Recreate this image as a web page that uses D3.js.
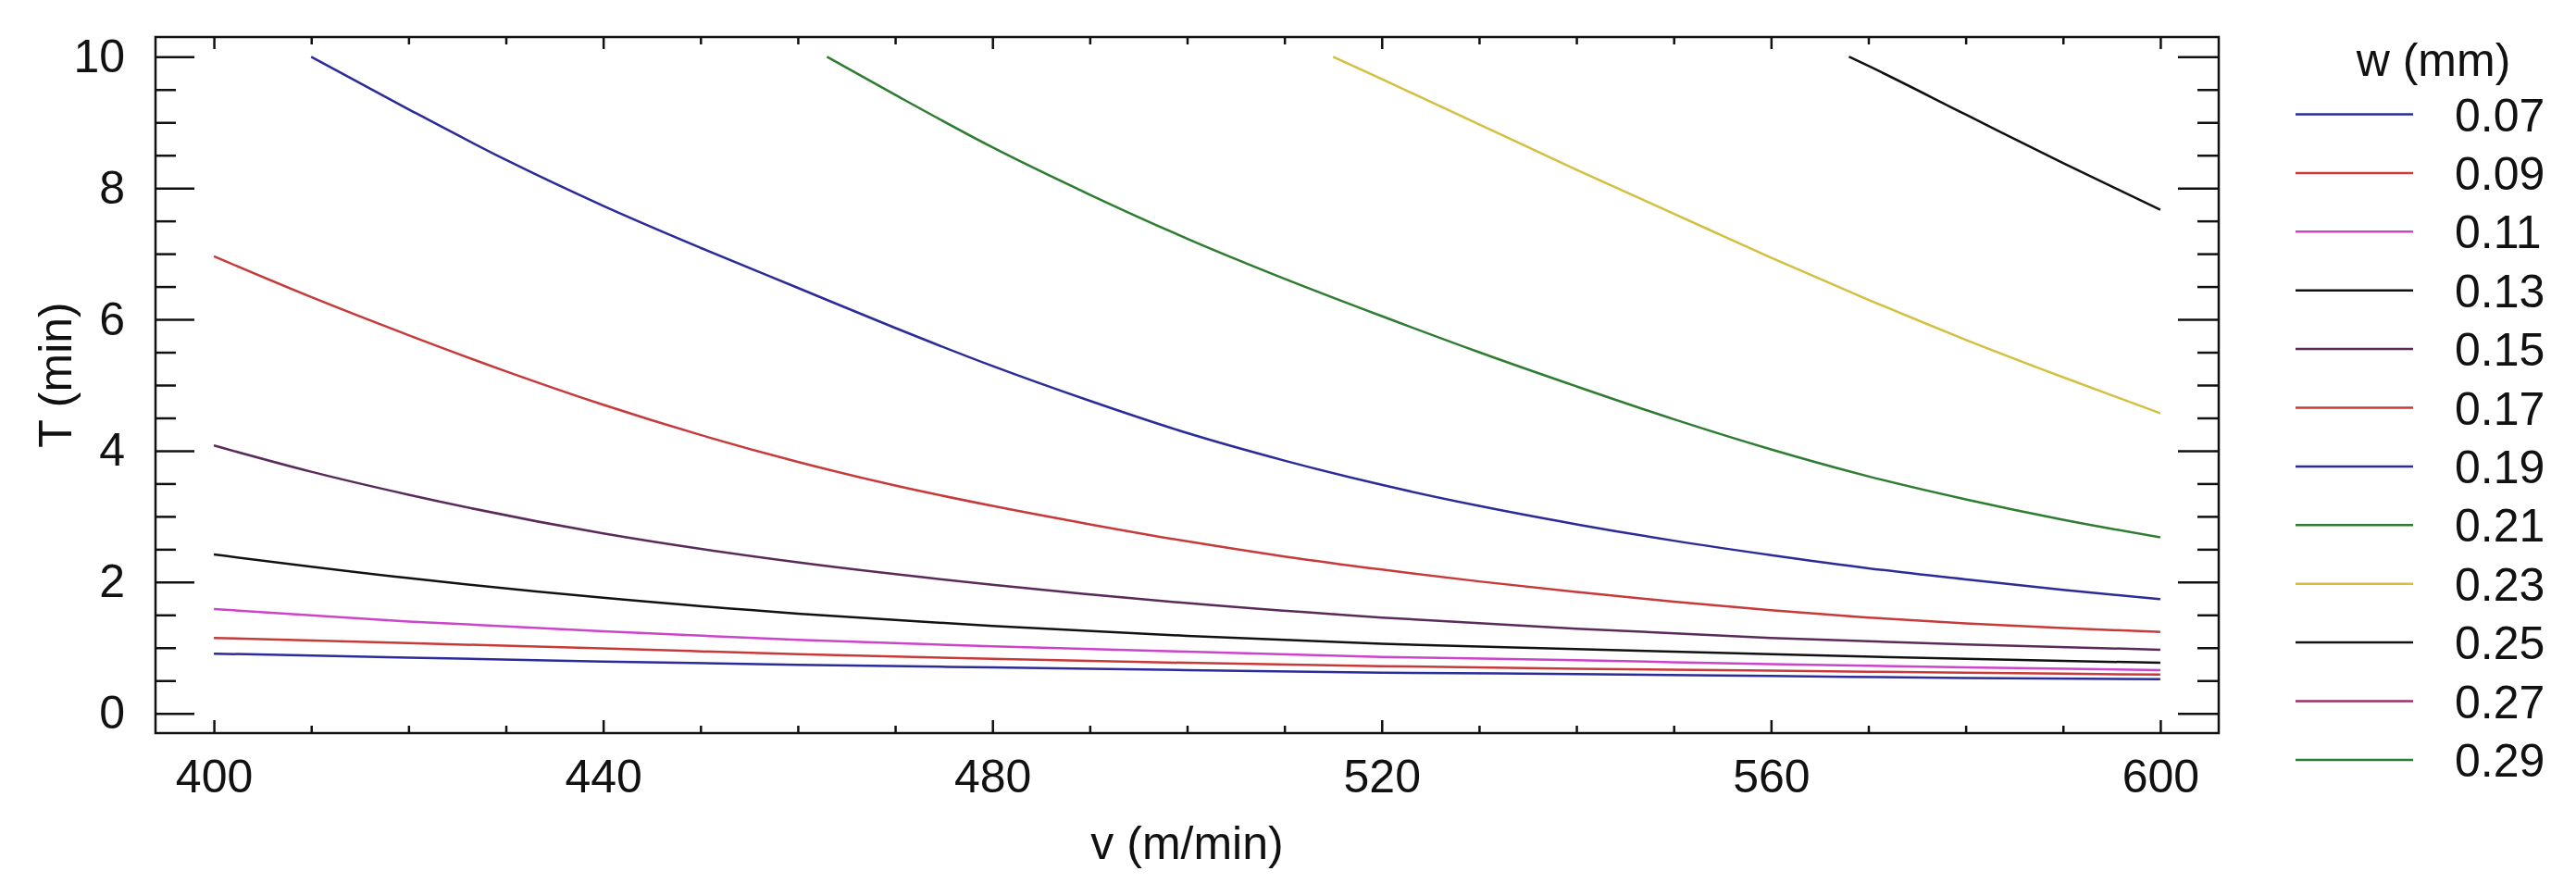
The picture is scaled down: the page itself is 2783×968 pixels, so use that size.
<!DOCTYPE html>
<html>
<head>
<meta charset="utf-8">
<script src="https://cdn.jsdelivr.net/npm/d3@7"></script>
<style>
  html, body { margin: 0; padding: 0; background: #ffffff; }
  svg { display: block; }
  text { font-family: "Liberation Sans", Arial, sans-serif; fill: #111; }
</style>
</head>
<body>
<svg id="chart" width="2783" height="968"></svg>
<script>
// ---------------- data ----------------
const widths = ["0.07","0.09","0.11","0.13","0.15","0.17","0.19","0.21","0.23","0.25","0.27","0.29"];
const colors = ["#2b2b99","#c83a3a","#cc44cc","#111111","#5a2a5a","#c83a3a","#2b2b99","#2e7d32","#d4c040","#111111","#993366","#2e7d32"];

const s007 = [[400,0.91],[420,0.85],[440,0.79],[460,0.74],[480,0.70],[500,0.66],[520,0.62],[540,0.60],[560,0.57],[580,0.54],[600,0.52]];
const s009 = [[400,1.15],[420,1.07],[440,0.99],[460,0.90],[480,0.83],[500,0.77],[520,0.72],[540,0.68],[560,0.65],[580,0.62],[600,0.59]];
const s011 = [[400,1.59],[420,1.40],[440,1.25],[460,1.12],[480,1.02],[500,0.94],[520,0.86],[540,0.81],[560,0.75],[580,0.70],[600,0.66]];
const s013 = [[400,2.42],[420,2.06],[440,1.76],[460,1.52],[480,1.33],[500,1.18],[520,1.06],[540,0.98],[560,0.90],[580,0.83],[600,0.77]];
const s015 = [[400,4.08],[410,3.68],[420,3.33],[440,2.74],[460,2.30],[480,1.96],[500,1.68],[520,1.46],[540,1.29],[560,1.15],[580,1.05],[600,0.97]];
const s017 = [[400,6.96],[410,6.34],[420,5.76],[430,5.21],[440,4.70],[450,4.24],[460,3.83],[470,3.47],[480,3.16],[490,2.88],[500,2.62],[510,2.39],[520,2.19],[530,2.01],[540,1.85],[550,1.70],[560,1.57],[570,1.46],[580,1.37],[590,1.30],[600,1.24]];
const s019 = [[410,10.0],[420,9.20],[430,8.43],[440,7.73],[450,7.09],[460,6.48],[470,5.87],[480,5.29],[490,4.76],[500,4.27],[510,3.85],[520,3.48],[530,3.16],[540,2.88],[550,2.63],[560,2.41],[570,2.21],[580,2.04],[590,1.88],[600,1.74]];
const s021 = [[463,10.0],[470,9.42],[480,8.62],[490,7.90],[500,7.23],[510,6.62],[520,6.05],[530,5.50],[540,4.98],[550,4.48],[560,4.02],[570,3.61],[580,3.26],[590,2.95],[600,2.68]];
const s023 = [[515,10.0],[520,9.66],[530,8.97],[540,8.28],[550,7.61],[560,6.94],[570,6.30],[580,5.69],[590,5.12],[600,4.57]];
const s025 = [[568,10.0],[570,9.86],[580,9.12],[590,8.38],[600,7.67]];
const s027 = []; // above T = 10 over the whole range
const s029 = []; // above T = 10 over the whole range
const seriesData = [s007,s009,s011,s013,s015,s017,s019,s021,s023,s025,s027,s029];

const xMajor = [400,440,480,520,560,600];
const yMajor = [0,2,4,6,8,10];

// ---------------- layout ----------------
const frame = {left:168, right:2397, top:40, bottom:792};
const svg = d3.select("#chart");
const x = d3.scaleLinear().domain([394, 606]).range([frame.left, frame.right]);
const y = d3.scaleLinear().domain([-0.3, 10.3]).range([frame.bottom, frame.top]);

const xMinor = d3.range(400, 601, 10).filter(v => !xMajor.includes(v));
const yMinor = d3.range(0, 10.01, 0.5).filter(v => !yMajor.includes(v));

function styleAxis(g) {
  g.select(".domain").remove();
  g.selectAll(".tick line").attr("stroke", "#111").attr("stroke-width", 2.5);
  g.selectAll("text").attr("font-size", 50).attr("fill", "#111");
}

// left axis
svg.append("g").attr("transform", `translate(${frame.left},0)`)
  .call(d3.axisLeft(y).tickValues(yMajor).tickSize(-42).tickPadding(33).tickFormat(d3.format("d")))
  .call(styleAxis);
svg.append("g").attr("transform", `translate(${frame.left},0)`)
  .call(d3.axisLeft(y).tickValues(yMinor).tickSize(-22).tickFormat(""))
  .call(styleAxis);
// right axis
svg.append("g").attr("transform", `translate(${frame.right},0)`)
  .call(d3.axisRight(y).tickValues(yMajor).tickSize(-44).tickFormat(""))
  .call(styleAxis);
svg.append("g").attr("transform", `translate(${frame.right},0)`)
  .call(d3.axisRight(y).tickValues(yMinor).tickSize(-23).tickFormat(""))
  .call(styleAxis);
// bottom axis
svg.append("g").attr("transform", `translate(0,${frame.bottom})`)
  .call(d3.axisBottom(x).tickValues(xMajor).tickSize(-14).tickPadding(28).tickFormat(d3.format("d")))
  .call(styleAxis);
svg.append("g").attr("transform", `translate(0,${frame.bottom})`)
  .call(d3.axisBottom(x).tickValues(xMinor).tickSize(-8).tickFormat(""))
  .call(styleAxis);
// top axis
svg.append("g").attr("transform", `translate(0,${frame.top})`)
  .call(d3.axisTop(x).tickValues(xMajor).tickSize(-13).tickFormat(""))
  .call(styleAxis);
svg.append("g").attr("transform", `translate(0,${frame.top})`)
  .call(d3.axisTop(x).tickValues(xMinor).tickSize(-8).tickFormat(""))
  .call(styleAxis);

// frame
svg.append("rect")
  .attr("x", frame.left).attr("y", frame.top)
  .attr("width", frame.right - frame.left).attr("height", frame.bottom - frame.top)
  .attr("fill", "none").attr("stroke", "#111").attr("stroke-width", 2.5);

// curves
const line = d3.line().x(d => x(d[0])).y(d => y(d[1])).curve(d3.curveMonotoneX);
svg.append("g").selectAll("path")
  .data(seriesData.map((d, i) => ({pts: d, color: colors[i]})).filter(s => s.pts.length > 1))
  .join("path")
  .attr("d", s => line(s.pts))
  .attr("fill", "none")
  .attr("stroke", s => s.color)
  .attr("stroke-width", 2.5);

// axis titles
svg.append("text")
  .attr("x", (frame.left + frame.right) / 2).attr("y", 928)
  .attr("text-anchor", "middle").attr("font-size", 50)
  .text("v (m/min)");
svg.append("text")
  .attr("transform", "translate(77,405) rotate(-90)")
  .attr("text-anchor", "middle").attr("font-size", 50)
  .text("T (min)");

// legend
const legend = svg.append("g");
legend.append("text")
  .attr("x", 2629).attr("y", 82)
  .attr("text-anchor", "middle").attr("font-size", 50)
  .text("w (mm)");
const items = legend.selectAll("g.item").data(widths).join("g")
  .attr("class", "item")
  .attr("transform", (d, i) => `translate(0,${123.5 + i * 63.4})`);
items.append("line")
  .attr("x1", 2480).attr("x2", 2607).attr("y1", 0).attr("y2", 0)
  .attr("stroke", (d, i) => colors[i]).attr("stroke-width", 2.5);
items.append("text")
  .attr("x", 2652).attr("y", 18)
  .attr("font-size", 50)
  .text(d => d);
</script>
</body>
</html>
